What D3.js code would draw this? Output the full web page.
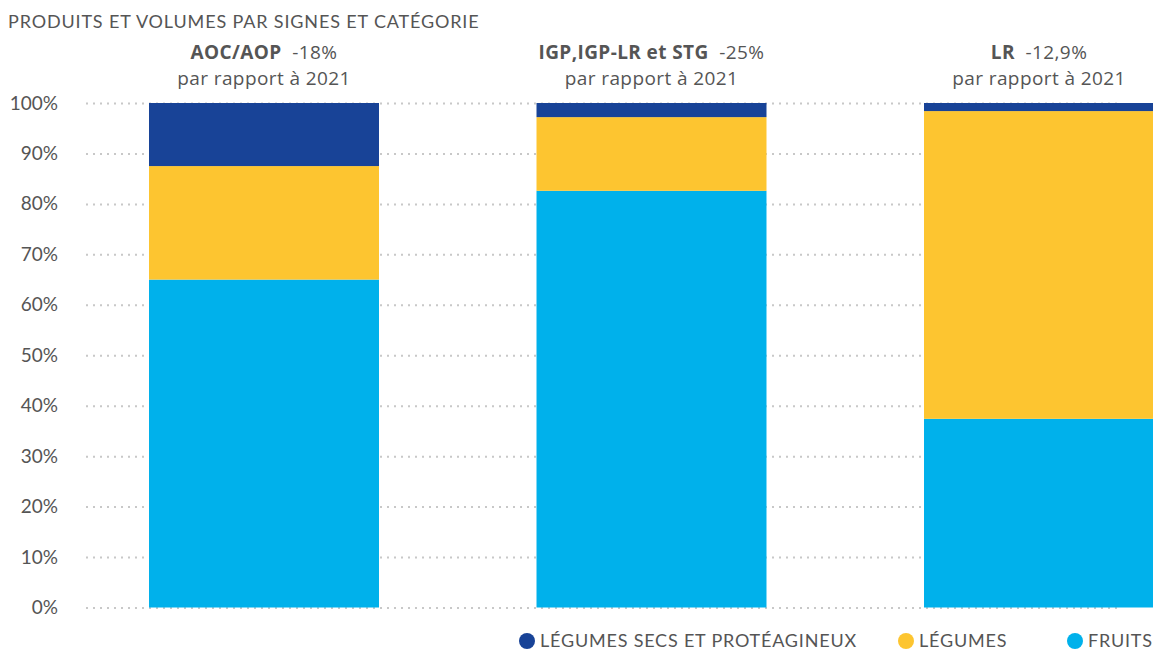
<!DOCTYPE html>
<html>
<head>
<meta charset="utf-8">
<script src="https://cdn.jsdelivr.net/npm/d3@7"></script>
<style>
  body { margin: 0; background: #fff; }
  svg { display: block; font-family: "Open Sans", sans-serif; }
</style>
</head>
<body>
<div class="container"></div>
<script>
// categories (signes) and their evolution vs 2021
const signes = ["AOC/AOP", "IGP,IGP-LR et STG", "LR"];
const evolutions = ["-18%", "-25%", "-12,9%"];

// shares per category, in percent
const fruits = [65.0, 82.6, 37.4];
const legumes = [22.5, 14.6, 61.0];
const legumesSecs = [12.5, 2.8, 1.6];

// series order from bottom to top
const seriesNames = ["FRUITS", "LÉGUMES", "LÉGUMES SECS ET PROTÉAGINEUX"];
const seriesColors = ["#00b1eb", "#fdc530", "#184397"];

const yTicks = [0, 10, 20, 30, 40, 50, 60, 70, 80, 90, 100];

const width = 1153;
const height = 650;

// table built for the stack layout
const table = signes.map((s, i) => ({
  signe: s,
  "FRUITS": fruits[i],
  "LÉGUMES": legumes[i],
  "LÉGUMES SECS ET PROTÉAGINEUX": legumesSecs[i]
}));

const svg = d3.select(".container")
  .append("svg")
  .attr("width", width)
  .attr("height", height);

// scales
const xScale = d3.scaleBand()
  .domain(signes)
  .range([70.25, 1232.75])
  .paddingInner(0.4065)
  .paddingOuter(0.4065 / 2);

const yScale = d3.scaleLinear()
  .domain([0, 100])
  .range([607.5, 103]);

const colorScale = d3.scaleOrdinal()
  .domain(seriesNames)
  .range(seriesColors);

// title
svg.append("text")
  .attr("x", 8)
  .attr("y", 28)
  .attr("fill", "#555")
  .style("font-family", "Lato, sans-serif")
  .style("font-size", "18px")
  .style("letter-spacing", "0.85px")
  .text("PRODUITS ET VOLUMES PAR SIGNES ET CATÉGORIE");

// y axis with dotted grid lines
const yAxis = d3.axisLeft(yScale)
  .tickValues(yTicks)
  .tickFormat((d) => d + "%")
  .tickSize(-(1122 - 86))
  .tickPadding(28);

const yAxisG = svg.append("g")
  .attr("transform", "translate(86, 0)")
  .call(yAxis);

yAxisG.select(".domain").remove();
yAxisG.selectAll(".tick line")
  .attr("stroke", "#c8c8c8")
  .attr("stroke-width", 2)
  .attr("stroke-dasharray", "2,5");
yAxisG.selectAll(".tick text")
  .attr("fill", "#555")
  .style("font-family", "Lato, sans-serif")
  .style("font-size", "19px");

// stacked bars
const stacked = d3.stack().keys(seriesNames)(table);

svg.append("g")
  .selectAll("g")
  .data(stacked)
  .join("g")
  .attr("fill", (d) => colorScale(d.key))
  .selectAll("rect")
  .data((d) => d)
  .join("rect")
  .attr("x", (d) => xScale(d.data.signe))
  .attr("width", xScale.bandwidth())
  .attr("y", (d) => yScale(d[1]))
  .attr("height", (d) => yScale(d[0]) - yScale(d[1]));

// labels above the bars, two lines each
const labelGroups = svg.append("g")
  .selectAll("g")
  .data(signes)
  .join("g")
  .attr("transform", (d) => `translate(${xScale(d) + xScale.bandwidth() / 2}, 0)`)
  .attr("text-anchor", "middle")
  .attr("fill", "#555")
  .style("font-size", "19px")
  .style("letter-spacing", "0.4px");

const line1 = labelGroups.append("text")
  .attr("y", 59);
line1.append("tspan")
  .attr("font-weight", "bold")
  .text((d) => d);
line1.append("tspan")
  .text((d, i) => "\u00a0 " + evolutions[i]);

labelGroups.append("text")
  .attr("y", 84.5)
  .text("par rapport à 2021");

// legend, reversed order like the reference
const legendItems = [
  { name: seriesNames[2], x: 527 },
  { name: seriesNames[1], x: 906 },
  { name: seriesNames[0], x: 1075 }
];

const legend = svg.append("g")
  .selectAll("g")
  .data(legendItems)
  .join("g")
  .attr("transform", (d) => `translate(${d.x}, 641)`);

legend.append("circle")
  .attr("r", 8)
  .attr("fill", (d) => colorScale(d.name));

legend.append("text")
  .attr("x", 13)
  .attr("y", 6)
  .attr("fill", "#555")
  .style("font-family", "Lato, sans-serif")
  .style("font-size", "18px")
  .style("letter-spacing", "0.8px")
  .text((d) => d.name);
</script>
</body>
</html>
